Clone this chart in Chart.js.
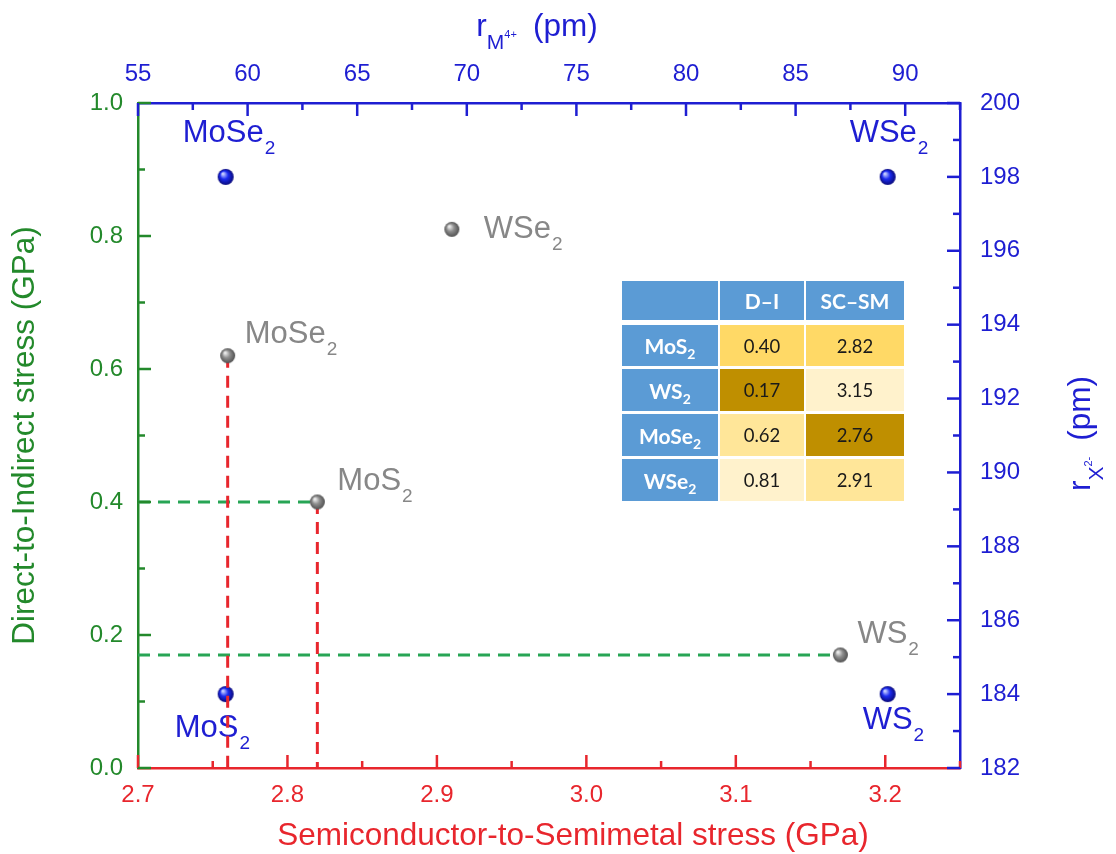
<!DOCTYPE html>
<html lang="en">
<head>
<meta charset="UTF-8">
<title>Transition stresses vs ionic radii</title>
<script src="https://cdn.jsdelivr.net/npm/chart.js"></script>
<style>
  body { margin: 0; background: #fff; }
  #wrap { position: relative; width: 1116px; height: 854px; }
  #table {
    position: absolute; left: 622px; top: 281px;
    display: grid;
    grid-template-columns: 96px 84px 98px;
    grid-template-rows: 41px 41px 42px 42px 42px;
    column-gap: 2px; row-gap: 3px;
    font-family: Lato, 'Open Sans', sans-serif;
  }
  #table div { display: flex; align-items: center; justify-content: center; font-size: 18.5px; color: #1a1a1a; }
  #table .hd { background: #5b9bd5; color: #fff; font-weight: bold; font-size: 21px; }
  #table .top { margin-bottom: 2px; }
  #table sub { font-size: 14px; vertical-align: -5px; line-height: 0; }
</style>
</head>
<body>
<div id="wrap">
  <canvas id="stressChart" width="1116" height="854"></canvas>
  <div id="table"></div>
</div>

<script>
// ---- data ----
const materials   = ['MoS2', 'WS2', 'MoSe2', 'WSe2'];
const scSmStress  = [2.82, 3.17, 2.76, 2.91];   // semiconductor-to-semimetal stress (GPa), bottom axis
const diStress    = [0.40, 0.17, 0.62, 0.81];   // direct-to-indirect stress (GPa), left axis
const metalRadius = [59, 89.2, 59, 89.2];       // r_M4+ (pm), top axis
const chalcRadius = [184, 184, 198, 198];       // r_X2- (pm), right axis

// inset table
const tableHeader = ['', 'D–I', 'SC–SM'];
const tableDI     = [0.40, 0.17, 0.62, 0.81];
const tableSCSM   = [2.82, 3.15, 2.76, 2.91];

// dashed guides
const dropToBottom = ['MoSe2', 'MoS2'];   // red vertical guides
const dropToLeft   = ['MoS2', 'WS2'];     // green horizontal guides

// axis ranges and ticks
const xRange = [2.7, 3.25], yRange = [0, 1];
const topRange = [55, 92.5], rightRange = [182, 200];
const bottomTicks = [2.7, 2.8, 2.9, 3.0, 3.1, 3.2];
const leftTicks   = [0, 0.2, 0.4, 0.6, 0.8, 1.0];
const topTicks    = [55, 60, 65, 70, 75, 80, 85, 90];
const rightTicks  = [182, 184, 186, 188, 190, 192, 194, 196, 198, 200];

// ---- styling ----
const FONT = "'Liberation Sans', Arial, sans-serif";
const RED = '#e8262d', GREEN = '#23892b', BLUE = '#1e1ed2', GRAY = '#878787';
const GUIDE_RED = '#e8262d', GUIDE_GREEN = '#27a555';

// label offsets from the point centre (left edge, baseline)
const grayLabelPos = { MoS2: [20, -12], WS2: [17, -12], MoSe2: [17, -13], WSe2: [32, 9] };
const blueLabelPos = { MoS2: [-51, 43], WS2: [-25, 35], MoSe2: [-43, -35], WSe2: [-38, -35] };

function sphere(r, edge, mid, hi) {
  const c = document.createElement('canvas');
  c.width = c.height = 2 * r + 2;
  const g = c.getContext('2d');
  const cx = r + 1, cy = r + 1;
  const grad = g.createRadialGradient(cx - r * 0.35, cy - r * 0.4, r * 0.1, cx, cy, r);
  grad.addColorStop(0, hi);
  grad.addColorStop(0.45, mid);
  grad.addColorStop(1, edge);
  g.fillStyle = grad;
  g.beginPath();
  g.arc(cx, cy, r, 0, Math.PI * 2);
  g.fill();
  return c;
}
const graySphere = sphere(7.5, '#505050', '#8e8e8e', '#ececec');
const blueSphere = sphere(8, '#08087a', '#1c2cf0', '#c4ccff');

function drawChem(ctx, name, x, y, color) {
  const base = name.slice(0, -1), sub = name.slice(-1);
  ctx.fillStyle = color;
  ctx.textAlign = 'left';
  ctx.textBaseline = 'alphabetic';
  ctx.font = '31px ' + FONT;
  ctx.fillText(base, x, y);
  const w = ctx.measureText(base).width;
  ctx.font = '19px ' + FONT;
  ctx.fillText(sub, x + w + 1, y + 12);
}

// parts: [text, size, dy, gapBefore]
function drawRich(ctx, parts, cx, y, color) {
  ctx.fillStyle = color;
  ctx.textAlign = 'left';
  ctx.textBaseline = 'alphabetic';
  let total = 0;
  parts.forEach(p => { ctx.font = p[1] + 'px ' + FONT; total += (p[3] || 0) + ctx.measureText(p[0]).width; });
  let x = cx - total / 2;
  parts.forEach(p => {
    ctx.font = p[1] + 'px ' + FONT;
    x += p[3] || 0;
    ctx.fillText(p[0], x, y + p[2]);
    x += ctx.measureText(p[0]).width;
  });
}

const pointLabels = {
  id: 'pointLabels',
  beforeDatasetsDraw(chart) {
    const meta = chart.getDatasetMeta(chart.data.datasets.length - 1);
    meta.data.forEach((pt, i) => {
      const o = blueLabelPos[materials[i]];
      drawChem(chart.ctx, materials[i], pt.x + o[0], pt.y + o[1], BLUE);
    });
  },
  afterDatasetsDraw(chart) {
    const meta = chart.getDatasetMeta(0);
    meta.data.forEach((pt, i) => {
      const o = grayLabelPos[materials[i]];
      drawChem(chart.ctx, materials[i], pt.x + o[0], pt.y + o[1], GRAY);
    });
  }
};

// inward major/minor ticks like the original plot
const inwardTicks = {
  id: 'inwardTicks',
  afterDraw(chart) {
    const ctx = chart.ctx, a = chart.chartArea;
    function run(scale, majors, color, side) {
      const step = majors[1] - majors[0];
      const minors = majors.map(v => v + step / 2).filter(v => v <= scale.max + 1e-9);
      ctx.save();
      ctx.strokeStyle = color;
      ctx.lineWidth = 2.5;
      [[majors, 13], [minors, 7]].forEach(([vals, len]) => {
        vals.forEach(v => {
          const p = scale.getPixelForValue(v);
          ctx.beginPath();
          if (side === 'bottom') { ctx.moveTo(p, a.bottom); ctx.lineTo(p, a.bottom - len); }
          if (side === 'top')    { ctx.moveTo(p, a.top); ctx.lineTo(p, a.top + len); }
          if (side === 'left')   { ctx.moveTo(a.left, p); ctx.lineTo(a.left + len, p); }
          if (side === 'right')  { ctx.moveTo(a.right, p); ctx.lineTo(a.right - len, p); }
          ctx.stroke();
        });
      });
      ctx.restore();
    }
    run(chart.scales.x, bottomTicks, RED, 'bottom');
    run(chart.scales.y, leftTicks, GREEN, 'left');
    run(chart.scales.x2, topTicks, BLUE, 'top');
    run(chart.scales.y2, rightTicks, BLUE, 'right');
  }
};

// bottom title sits off-centre in the original; top/right titles need sub/superscripts
const axisTitles = {
  id: 'axisTitles',
  afterDraw(chart) {
    const ctx = chart.ctx, a = chart.chartArea;
    ctx.save();
    ctx.fillStyle = RED;
    ctx.font = '31.5px ' + FONT;
    ctx.textAlign = 'center';
    ctx.textBaseline = 'alphabetic';
    ctx.fillText('Semiconductor-to-Semimetal stress (GPa)', 573, 845);
    drawRich(ctx, [['r', 31.5, 0], ['M', 21, 13], ['4+', 11, 2], ['(pm)', 31.5, 0, 16]], 537, 36, BLUE);
    ctx.translate(1089.5, (a.top + a.bottom) / 2 - 2);
    ctx.rotate(-Math.PI / 2);
    drawRich(ctx, [['r', 31.5, 0], ['X', 21, 13], ['2-', 11, 2], ['(pm)', 31.5, 0, 16]], 0, 0, BLUE);
    ctx.restore();
  }
};

const redGuides = dropToBottom.map(n => {
  const i = materials.indexOf(n);
  return {
    data: [{ x: scSmStress[i], y: diStress[i] }, { x: scSmStress[i], y: yRange[0] }],
    showLine: true, borderColor: GUIDE_RED, borderWidth: 3, borderDash: [12, 8], pointRadius: 0,
    xAxisID: 'x', yAxisID: 'y'
  };
});
const greenGuides = dropToLeft.map(n => {
  const i = materials.indexOf(n);
  return {
    data: [{ x: xRange[0], y: diStress[i] }, { x: scSmStress[i], y: diStress[i] }],
    showLine: true, borderColor: GUIDE_GREEN, borderWidth: 3, borderDash: [12, 8], pointRadius: 0,
    xAxisID: 'x', yAxisID: 'y'
  };
});

const tickFont = { family: FONT, size: 24 };
const titleFont = { family: FONT, size: 31.5 };
const noGrid = { display: false, drawTicks: false };

new Chart(document.getElementById('stressChart'), {
  type: 'scatter',
  data: {
    datasets: [
      {
        label: 'stress',
        data: materials.map((m, i) => ({ x: scSmStress[i], y: diStress[i] })),
        pointStyle: graySphere, pointRadius: 8,
        xAxisID: 'x', yAxisID: 'y'
      },
      ...redGuides,
      ...greenGuides,
      {
        label: 'radii',
        data: materials.map((m, i) => ({ x: metalRadius[i], y: chalcRadius[i] })),
        pointStyle: blueSphere, pointRadius: 8,
        xAxisID: 'x2', yAxisID: 'y2'
      }
    ]
  },
  options: {
    responsive: false,
    animation: false,
    events: [],
    layout: { padding: 0 },
    plugins: { legend: { display: false }, tooltip: { enabled: false } },
    scales: {
      x: {
        type: 'linear', position: 'bottom', min: xRange[0], max: xRange[1],
        afterBuildTicks: s => { s.ticks = bottomTicks.map(v => ({ value: v })); },
        afterFit: s => { s.height = 86; },
        grid: noGrid,
        border: { color: RED, width: 2.5 },
        ticks: { color: RED, font: tickFont, padding: 13, maxRotation: 0, callback: v => Number(v).toFixed(1) }
      },
      x2: {
        type: 'linear', position: 'top', min: topRange[0], max: topRange[1],
        afterBuildTicks: s => { s.ticks = topTicks.map(v => ({ value: v })); },
        afterFit: s => { s.height = 103; },
        grid: noGrid,
        border: { color: BLUE, width: 2.5 },
        ticks: { color: BLUE, font: tickFont, padding: 14, maxRotation: 0, callback: v => String(v) }
      },
      y: {
        type: 'linear', position: 'left', min: yRange[0], max: yRange[1],
        afterBuildTicks: s => { s.ticks = leftTicks.map(v => ({ value: v })); },
        afterFit: s => { s.width = 138; },
        grid: noGrid,
        border: { color: GREEN, width: 2.5 },
        ticks: { color: GREEN, font: tickFont, padding: 15, callback: v => Number(v).toFixed(1) },
        title: { display: true, text: 'Direct-to-Indirect stress (GPa)', color: GREEN, font: titleFont, padding: { top: 6, bottom: 0 } }
      },
      y2: {
        type: 'linear', position: 'right', min: rightRange[0], max: rightRange[1],
        afterBuildTicks: s => { s.ticks = rightTicks.map(v => ({ value: v })); },
        afterFit: s => { s.width = 156; },
        grid: noGrid,
        border: { color: BLUE, width: 2.5 },
        ticks: { color: BLUE, font: tickFont, padding: 20, callback: v => String(v) }
      }
    }
  },
  plugins: [pointLabels, inwardTicks, axisTitles]
});

// ---- inset table, shaded by rank within each column (lowest = darkest) ----
const shades = ['#bf8f00', '#ffd966', '#ffe699', '#fff2cc'];
function shadeFor(col, v) {
  const sorted = [...col].sort((a, b) => a - b);
  return shades[sorted.indexOf(v)];
}
function chemHTML(n) { return n.slice(0, -1) + '<sub>' + n.slice(-1) + '</sub>'; }

const table = document.getElementById('table');
tableHeader.forEach(h => {
  const d = document.createElement('div');
  d.className = 'hd top';
  d.textContent = h;
  table.appendChild(d);
});
materials.forEach((m, i) => {
  const name = document.createElement('div');
  name.className = 'hd';
  name.innerHTML = '<span>' + chemHTML(m) + '</span>';
  table.appendChild(name);
  [[tableDI, 2], [tableSCSM, 2]].forEach(([col, dp]) => {
    const c = document.createElement('div');
    c.style.background = shadeFor(col, col[i]);
    c.textContent = col[i].toFixed(dp);
    table.appendChild(c);
  });
});
</script>
</body>
</html>
